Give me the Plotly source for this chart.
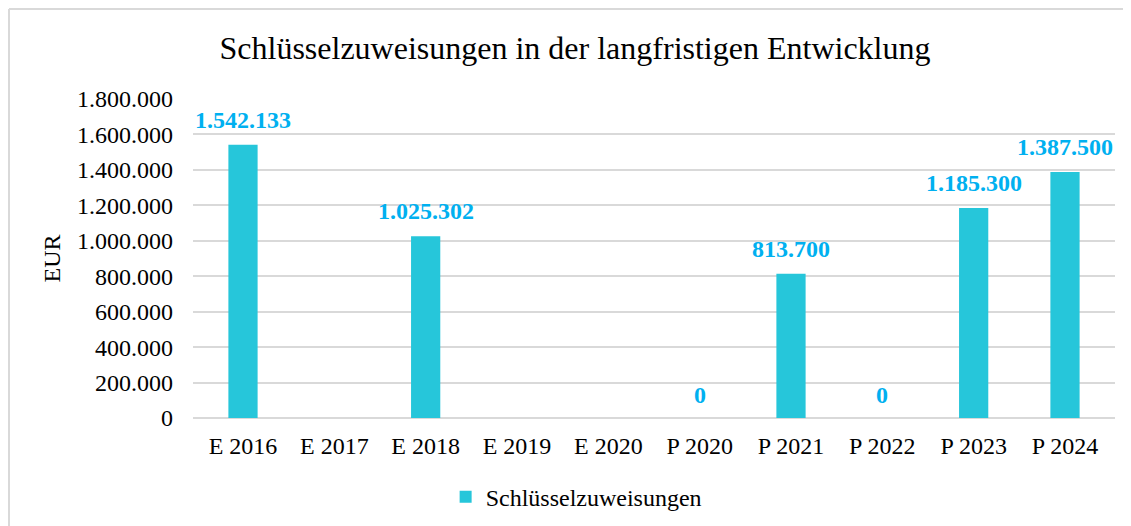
import plotly.graph_objects as go

categories = ["E 2016", "E 2017", "E 2018", "E 2019", "E 2020",
              "P 2020", "P 2021", "P 2022", "P 2023", "P 2024"]
values = [1542133, None, 1025302, None, None, 0, 813700, 0, 1185300, 1387500]
y_ticks = [0, 200000, 400000, 600000, 800000, 1000000, 1200000, 1400000, 1600000, 1800000]
y_tick_labels = ["0", "200.000", "400.000", "600.000", "800.000", "1.000.000",
                 "1.200.000", "1.400.000", "1.600.000", "1.800.000"]

def fmt(v):
    return f"{v:,}".replace(",", ".")

FONT = "Liberation Serif"
BAR = "#26C6DA"
LBL = "#00B0F0"

# page body has an 8px margin, so figure is 8px smaller on each dimension
W, H = 1123, 518
L, R, T, B = 185, 16, 91, 108
PW, PH = W - L - R, H - T - B

fig = go.Figure()
fig.add_trace(go.Bar(
    x=categories, y=values,
    name="Schlüsselzuweisungen", marker=dict(color=BAR, line=dict(width=0)),
))

for c, v in zip(categories, values):
    if v is None:
        continue
    fig.add_annotation(x=c, y=v, text=f"<b>{fmt(v)}</b>", showarrow=False,
                       yanchor="bottom", yshift=10 if v > 0 else 8,
                       font=dict(family=FONT, size=24, color=LBL))

# chart border (top and left)
bx = (1 - L) / PW
by = (H - B - 1) / PH
fig.add_shape(type="line", xref="paper", yref="paper",
              x0=bx, x1=1.05, y0=by, y1=by,
              line=dict(color="#D9D9D9", width=2))
fig.add_shape(type="line", xref="paper", yref="paper",
              x0=bx, x1=bx, y0=by, y1=-0.4,
              line=dict(color="#D9D9D9", width=2))

fig.update_layout(
    width=W, height=H,
    margin=dict(l=L, r=R, t=T, b=B, autoexpand=False),
    paper_bgcolor="white", plot_bgcolor="white",
    font=dict(family=FONT, size=24, color="#000000"),
    title=dict(text="Schlüsselzuweisungen in der langfristigen Entwicklung",
               x=567 / W, xref="container", xanchor="center",
               y=1 - 40 / H, yref="container", yanchor="middle",
               font=dict(family=FONT, size=32, color="#000000")),
    bargap=0.68,
    showlegend=True,
    legend=dict(orientation="h", x=0.274, xanchor="left", y=-0.248, yanchor="middle",
                font=dict(family=FONT, size=24, color="#000000")),
    xaxis=dict(showgrid=False, showline=False, ticks="", tickfont=dict(family=FONT, size=24),
               ticklabelstandoff=11, automargin=False),
    yaxis=dict(range=[0, 1800000], tickvals=y_ticks, ticktext=y_tick_labels,
               showgrid=True, gridcolor="#D9D9D9", gridwidth=2,
               zeroline=True, zerolinecolor="#D9D9D9", zerolinewidth=2,
               ticks="", tickfont=dict(family=FONT, size=24), ticklabelstandoff=19,
               automargin=False,
               title=dict(text="EUR", font=dict(family=FONT, size=24), standoff=9)),
)

fig.write_html("out.html")
